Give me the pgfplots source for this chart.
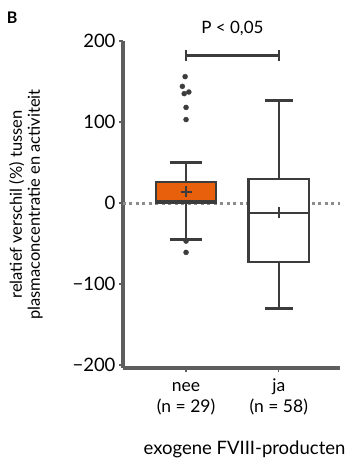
\documentclass[border=0pt]{standalone}
\usepackage{fontspec}
\setmainfont{Lato}
\usepackage{pgfplots}
\pgfplotsset{compat=1.18}
\definecolor{boxorange}{HTML}{E8600C}
\definecolor{linegray}{HTML}{3C3C3C}
\definecolor{axgray}{HTML}{5E5E5E}
\definecolor{dotgray}{HTML}{8C8C8C}
\begin{document}
\begin{tikzpicture}
\useasboundingbox (-123pt,-98pt) rectangle (225pt,368pt);
\begin{axis}[
  at={(0,0)}, anchor=south west,
  scale only axis, width=217pt, height=327pt,
  xmin=-0.68, xmax=1.66, ymin=-203.7, ymax=200,
  axis x line*=bottom, axis y line*=left,
  axis line style={-, axgray, line width=3.5pt},
  ytick={-200,-100,0,100,200},
  yticklabels={−200,−100,0,100,200},
  xtick={0,1},
  xticklabels={\strut nee\\(n = 29), \strut ja\\(n = 58)},
  xticklabel style={align=center, font=\fontsize{17.5}{19}\selectfont, yshift=-3pt},
  yticklabel style={font=\fontsize{18.5}{20}\selectfont},
  tick style={axgray, line width=1.3pt},
  major tick length=4pt, tick align=outside,
  xlabel={exogene FVIII-producten},
  xlabel style={at={(axis description cs:0.56,-0.25)}, anchor=center, font=\fontsize{18.5}{20}\selectfont},
  ylabel={relatief verschil (\%) tussen\\plasmaconcentratie en activiteit},
  ylabel style={at={(axis description cs:-0.447,0.5)}, anchor=center, align=center, font=\fontsize{16.5}{18}\selectfont},
  clip=false,
]
% zero reference line
\addplot[dotgray, line width=3pt, dash pattern=on 3pt off 3.5pt] coordinates {(-0.68,0) (1.66,0)};
% box 1: whiskers, box, median
\addplot[linegray, line width=2.4pt] coordinates {(0,26) (0,50)};
\addplot[linegray, line width=2.4pt] coordinates {(0,0) (0,-45)};
\addplot[linegray, line width=2.8pt] coordinates {(-0.17,50) (0.17,50)};
\addplot[linegray, line width=2.8pt] coordinates {(-0.17,-45) (0.17,-45)};
\addplot[draw=linegray, fill=boxorange, line width=2.4pt] coordinates {(-0.325,0) (0.325,0) (0.325,26) (-0.325,26)} -- cycle;
\addplot[linegray, line width=2.4pt] coordinates {(-0.325,2) (0.325,2)};
% box 2
\addplot[linegray, line width=2.4pt] coordinates {(1,30) (1,127)};
\addplot[linegray, line width=2.4pt] coordinates {(1,-73) (1,-130)};
\addplot[linegray, line width=2.8pt] coordinates {(0.85,127) (1.15,127)};
\addplot[linegray, line width=2.8pt] coordinates {(0.85,-130) (1.15,-130)};
\addplot[draw=linegray, fill=white, line width=2.4pt] coordinates {(0.675,-73) (1.325,-73) (1.325,30) (0.675,30)} -- cycle;
\addplot[linegray, line width=2.4pt] coordinates {(0.675,-12) (1.325,-12)};
% outliers
\addplot[only marks, mark=*, mark size=2.5pt, linegray] coordinates {(-0.01,156) (-0.04,144) (-0.02,135) (0.03,137) (0,118) (0,103) (0,-47) (0,-61)};
% means
\addplot[only marks, mark=+, mark size=5.5pt, linegray, line width=2pt] coordinates {(0,14) (1,-12)};
% significance bracket
\addplot[linegray, line width=2.4pt] coordinates {(0,182) (1,182)};
\addplot[linegray, line width=2.4pt] coordinates {(0,175) (0,189)};
\addplot[linegray, line width=2.4pt] coordinates {(1,175) (1,189)};
\node[font=\fontsize{17}{19}\selectfont] at (axis cs:0.5,216) {P < 0,05};
\node[font=\bfseries\fontsize{16}{18}\selectfont] at (axis description cs:-0.511,1.07) {B};
\end{axis}
\end{tikzpicture}
\end{document}
